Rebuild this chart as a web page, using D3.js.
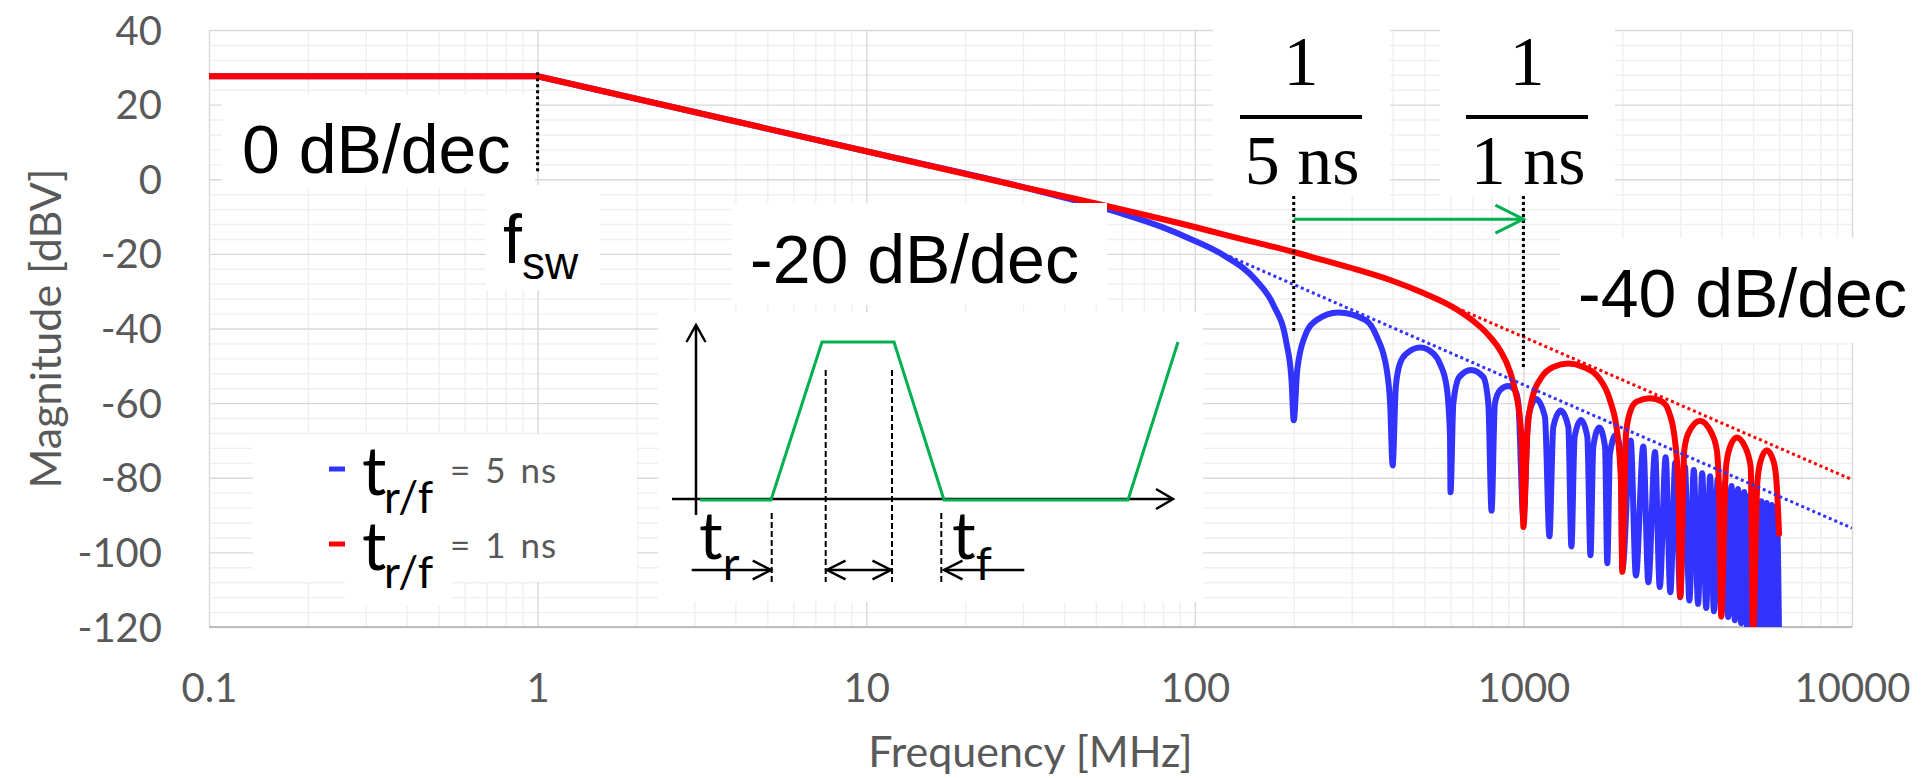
<!DOCTYPE html>
<html>
<head>
<meta charset="utf-8">
<script src="https://cdn.jsdelivr.net/npm/d3@7"></script>
<style>
  body { margin: 0; background: #fff; }
  svg { display: block; }
</style>
</head>
<body>
<div id="chart"></div>
<script>
const width = 1921, height = 778
const plot = { left: 209, right: 1852, top: 30, bottom: 627 }

const BLUE = "#3333ff"
const RED = "#ff0000"
const GREEN = "#00b050"
const GRAY_TEXT = "#595959"

// axis ticks
const xTicks = [0.1, 1, 10, 100, 1000, 10000]
const yTicks = [40, 20, 0, -20, -40, -60, -80, -100, -120]

// spectrum, t_r/f = 5 ns  [MHz, dBV]
const bluePts = [
  [0.1, 27.6], [1, 27.6], [10, 7.5], [30, -2.1], [40, -4.9], [60, -9.2], [80, -12.9], [97, -16.0],
  [122, -20.3], [154, -27.2], [173, -33.5], [190, -43.8], [197, -54.0], [200, -64.6],
  [205, -51.2], [216, -42.2], [235, -37.7], [273, -35.7], [330, -37.7], [358, -42.2], [384, -51.2], [393, -60.1], [400, -76.7],
  [409, -55.6], [421, -49.4], [441, -46.7], [485, -45.1], [532, -46.7], [557, -49.4], [584, -55.6], [598, -69.0], [600, -83.9],
  [612, -60.1], [638, -53.0], [693, -51.1], [755, -53.0], [782, -60.1], [800, -88.8],
  [819, -60.1], [849, -56.5], [900, -55.4], [943, -56.5], [965, -60.1], [1000, -91.0],
  [1035, -63.7], [1092, -58.9], [1163, -63.7], [1200, -95.7],
  [1233, -66.4], [1299, -62.0], [1370, -66.4], [1400, -98.4],
  [1432, -69.0], [1497, -64.5], [1565, -69.0], [1600, -100.8],
  [1632, -71.7], [1702, -66.5], [1772, -71.7], [1800, -102.9],
  [1834, -73.5], [1913, -68.5], [1977, -73.5], [2000, -104.5],
  [2121, -70.0], [2200, -106.2], [2317, -71.6], [2400, -108.0], [2515, -73.1], [2600, -109.3],
  [2710, -74.5], [2800, -110.7], [2900, -75.9], [3000, -112.0], [3100, -77.0], [3200, -112.9],
  [3300, -77.9], [3400, -113.8], [3500, -78.8], [3600, -114.9], [3700, -79.6], [3800, -115.8],
  [3900, -80.4], [4000, -116.5], [4100, -81.3], [4200, -117.3], [4300, -82.2], [4400, -118.2],
  [4500, -83.0], [4600, -119.0], [4700, -83.8], [4800, -121.0], [4900, -84.6], [5000, -122.0],
  [5100, -85.5], [5200, -122.0], [5300, -86.3], [5400, -123.0], [5500, -86.8], [5600, -123.0],
  [5700, -87.3], [5800, -123.0], [5900, -87.7], [6000, -124.0]
]

// spectrum, t_r/f = 1 ns
const redPts = [
  [0.1, 27.6], [1, 27.6], [10, 7.5], [30, -2.1], [50, -6.5], [70, -9.5], [100, -12.8], [122, -14.8],
  [154, -17.0], [200, -19.5], [246, -21.7], [311, -24.2], [393, -27.0], [496, -30.5], [627, -34.9],
  [704, -38.0], [791, -42.2], [849, -45.8], [910, -51.5], [943, -56.5], [977, -64.6], [988, -71.0], [1000, -93.2],
  [1028, -68.1], [1060, -59.2], [1137, -53.0], [1233, -50.3], [1370, -49.4], [1521, -50.3], [1688, -53.0],
  [1834, -59.2], [1931, -68.1], [1982, -81.5], [2000, -105.2],
  [2053, -68.1], [2121, -61.9], [2212, -59.6], [2427, -58.7], [2642, -59.6], [2761, -61.9], [2914, -72.6], [2970, -86.0], [3000, -111.9],
  [3088, -72.6], [3176, -68.1], [3446, -64.7], [3741, -68.1], [3877, -72.6], [3947, -86.0], [4000, -117.2],
  [4136, -77.1], [4255, -71.7], [4457, -69.2], [4725, -71.7], [4917, -77.1], [5000, -122.0],
  [5150, -81.5], [5260, -75.8], [5502, -72.6], [5780, -75.8], [5896, -81.5], [6000, -95.0]
]

// -40 dB/dec asymptotes
const blueAsym = [[118, -19.4], [10000, -93.5]]
const redAsym = [[496, -30.6], [10000, -80.5]]

const x = d3.scaleLog().domain([0.1, 10000]).range([plot.left, plot.right])
const y = d3.scaleLinear().domain([-120, 40]).range([plot.bottom, plot.top])

const svg = d3.select("#chart").append("svg").attr("width", width).attr("height", height)

// grid
let minorX = []
xTicks.slice(0, -1).forEach(d => { for (let k = 2; k < 10; k++) minorX.push(d * k) })
let minorY = d3.range(-120, 41, 4).filter(v => v % 20 != 0)

svg.append("g").attr("transform", `translate(0,${plot.bottom})`)
  .call(d3.axisBottom(x).tickValues(minorX).tickSize(-(plot.bottom - plot.top)).tickFormat(""))
  .call(g => g.select(".domain").remove())
  .call(g => g.selectAll("line").attr("stroke", "#efefef").attr("stroke-width", 1.4))
svg.append("g").attr("transform", `translate(${plot.left},0)`)
  .call(d3.axisLeft(y).tickValues(minorY).tickSize(-(plot.right - plot.left)).tickFormat(""))
  .call(g => g.select(".domain").remove())
  .call(g => g.selectAll("line").attr("stroke", "#efefef").attr("stroke-width", 1.4))
svg.append("g").attr("transform", `translate(0,${plot.bottom})`)
  .call(d3.axisBottom(x).tickValues(xTicks).tickSize(-(plot.bottom - plot.top)).tickFormat(""))
  .call(g => g.select(".domain").remove())
  .call(g => g.selectAll("line").attr("stroke", "#d9d9d9").attr("stroke-width", 1.4))
svg.append("g").attr("transform", `translate(${plot.left},0)`)
  .call(d3.axisLeft(y).tickValues(yTicks).tickSize(-(plot.right - plot.left)).tickFormat(""))
  .call(g => g.select(".domain").remove())
  .call(g => g.selectAll("line").attr("stroke", "#d9d9d9").attr("stroke-width", 1.4))
svg.append("line").attr("x1", plot.left).attr("x2", plot.right).attr("y1", plot.bottom).attr("y2", plot.bottom)
  .attr("stroke", "#bfbfbf").attr("stroke-width", 2)

// tick labels
svg.append("g").attr("transform", `translate(0,${plot.bottom})`)
  .call(d3.axisBottom(x).tickValues(xTicks).tickSize(0).tickPadding(0).tickFormat(d => String(d)))
  .call(g => g.select(".domain").remove())
  .call(g => g.selectAll("text").attr("dy", null).attr("y", 75)
    .attr("font-family", "Lato").attr("font-size", 40).attr("fill", GRAY_TEXT))
svg.append("g").attr("transform", `translate(${plot.left},0)`)
  .call(d3.axisLeft(y).tickValues(yTicks).tickSize(0).tickPadding(0).tickFormat(d => String(d)))
  .call(g => g.select(".domain").remove())
  .call(g => g.selectAll("text").attr("dy", null).attr("x", -47).attr("y", 14)
    .attr("font-family", "Lato").attr("font-size", 40).attr("fill", GRAY_TEXT))

svg.append("text").text("Frequency [MHz]").attr("x", (plot.left + plot.right) / 2).attr("y", 767)
  .attr("text-anchor", "middle").attr("font-family", "Lato").attr("font-size", 43).attr("fill", GRAY_TEXT)
svg.append("text").text("Magnitude [dBV]")
  .attr("transform", `translate(61,${(plot.top + plot.bottom) / 2}) rotate(-90)`)
  .attr("text-anchor", "middle").attr("font-family", "Lato").attr("font-size", 43).attr("fill", GRAY_TEXT)

// data lines: straight up to f_sw, smooth after
svg.append("defs").append("clipPath").attr("id", "clip").append("rect")
  .attr("x", plot.left).attr("y", plot.top).attr("width", plot.right - plot.left).attr("height", plot.bottom - plot.top)

const flat = d3.line().x(d => x(d[0])).y(d => y(d[1]))
const smooth = d3.line().x(d => x(d[0])).y(d => y(d[1])).curve(d3.curveMonotoneX)
const lines = svg.append("g").attr("clip-path", "url(#clip)")

function series(pts, col) {
  let k = pts.findIndex(d => d[0] >= 1)
  lines.append("path").attr("d", flat(pts.slice(0, k + 1)) + smooth(pts.slice(k)).replace(/^M/, "L"))
    .attr("fill", "none").attr("stroke", col)
    .attr("stroke-width", 6).attr("stroke-linejoin", "round").attr("stroke-linecap", "round")
}
series(bluePts, BLUE)
series(redPts, RED)
lines.append("path").attr("d", flat(blueAsym)).attr("fill", "none")
  .attr("stroke", BLUE).attr("stroke-width", 3).attr("stroke-dasharray", "3,3")
lines.append("path").attr("d", flat(redAsym)).attr("fill", "none")
  .attr("stroke", RED).attr("stroke-width", 3).attr("stroke-dasharray", "3,3")

// white text boxes sitting over the grid
const boxes = [
  [222, 95, 535, 188], [486, 185, 600, 290], [732, 203, 1107, 305], [658, 312, 1203, 602],
  [253, 434, 637, 582], [345, 582, 452, 606], [1213, 0, 1390, 196], [1440, 0, 1615, 196],
  [1560, 238, 1921, 343]
]
svg.append("g").selectAll("rect").data(boxes).join("rect")
  .attr("x", d => d[0]).attr("y", d => d[1]).attr("width", d => d[2] - d[0]).attr("height", d => d[3] - d[1])
  .attr("fill", "#fff")

// dotted markers
function vdot(f, db1, db2) {
  svg.append("line").attr("x1", x(f)).attr("x2", x(f)).attr("y1", y(db1)).attr("y2", y(db2))
    .attr("stroke", "#000").attr("stroke-width", 3).attr("stroke-dasharray", "3,3")
}
vdot(1, 28.7, 1.7)
vdot(200, -4.5, -41)
vdot(1000, -4.5, -50.6)

// green arrow 1/5ns -> 1/1ns
const ay = y(-10.7)
svg.append("line").attr("x1", x(200)).attr("x2", x(1000)).attr("y1", ay).attr("y2", ay)
  .attr("stroke", GREEN).attr("stroke-width", 3)
svg.append("polyline").attr("points", `${x(1000) - 28},${ay - 14} ${x(1000)},${ay} ${x(1000) - 28},${ay + 14}`)
  .attr("fill", "none").attr("stroke", GREEN).attr("stroke-width", 3)

// annotation text
const ARIAL = "Liberation Sans, Arial, sans-serif"
function label(txt, px, py, size, fam) {
  return svg.append("text").text(txt).attr("x", px).attr("y", py)
    .attr("font-family", fam || ARIAL).attr("font-size", size).attr("fill", "#000")
}
label("0 dB/dec", 242, 173, 68)
label("-20 dB/dec", 750, 283, 68)
label("-40 dB/dec", 1578, 317, 68)
let fsw = label("f", 503, 263, 68)
fsw.append("tspan").text("sw").attr("font-size", 46).attr("dy", 16)

// fractions 1/(5 ns), 1/(1 ns)
const SERIF = "Liberation Serif, Times New Roman, serif";
[[1301, "5 ns"], [1527, "1 ns"]].forEach(([cx, den]) => {
  label("1", cx, 85, 70, SERIF).attr("text-anchor", "middle")
  svg.append("rect").attr("x", cx - 61).attr("y", 115).attr("width", 122).attr("height", 4).attr("fill", "#000")
  label(den, cx + 1, 184, 70, SERIF).attr("text-anchor", "middle")
})

// legend
const CAL = "Lato, sans-serif"
const legend = [[BLUE, "= 5 ns", 0], [RED, "= 1 ns", 75]]
legend.forEach(([col, txt, dy]) => {
  svg.append("line").attr("x1", 329).attr("x2", 345).attr("y1", 469 + dy).attr("y2", 469 + dy)
    .attr("stroke", col).attr("stroke-width", 5)
  label("t", 362, 495 + dy, 68, CAL)
  label("r/f", 384, 513 + dy, 44, CAL)
  label(txt, 450, 483 + dy, 35, CAL).attr("fill", GRAY_TEXT).attr("letter-spacing", 1).attr("word-spacing", 4)
})

// inset: trapezoidal pulse
const inset = svg.append("g")
function pl(pts, sw, col, dash) {
  let p = inset.append("polyline").attr("points", pts.map(p => p.join(",")).join(" "))
    .attr("fill", "none").attr("stroke", col || "#000").attr("stroke-width", sw)
  if (dash) p.attr("stroke-dasharray", dash)
  return p
}
pl([[696, 515], [696, 326]], 2.5)
pl([[686.5, 342], [696, 325], [705.5, 342]], 2.5)
pl([[672, 499], [1172, 499]], 2.5)
pl([[1156, 489], [1173, 499], [1156, 509]], 2.5)
pl([[700, 500], [771, 500], [822, 342], [894, 342], [944, 500], [1128, 500], [1178, 342]], 3, GREEN)
pl([[771.7, 513], [771.7, 582]], 2, "#000", "6,3")
pl([[825.7, 370], [825.7, 582]], 2, "#000", "6,3")
pl([[892, 370], [892, 582]], 2, "#000", "6,3")
pl([[941.3, 513], [941.3, 582]], 2, "#000", "6,3")
// timing arrows
pl([[691.7, 570], [771, 570]], 2.5)
pl([[752.7, 560.7], [771, 570], [752.7, 579.3]], 2.5)
pl([[827, 570], [891, 570]], 2.5)
pl([[845.5, 560.7], [827, 570], [845.5, 579.3]], 2.5)
pl([[872.5, 560.7], [891, 570], [872.5, 579.3]], 2.5)
pl([[944, 570], [1024.3, 570]], 2.5)
pl([[962.5, 560.7], [944, 570], [962.5, 579.3]], 2.5)
let tr = label("t", 699, 559, 66, CAL)
tr.append("tspan").text("r").attr("font-size", 46).attr("dy", 21)
let tf = label("t", 952, 559, 66, CAL)
tf.append("tspan").text("f").attr("font-size", 46).attr("dy", 21)
</script>
</body>
</html>
